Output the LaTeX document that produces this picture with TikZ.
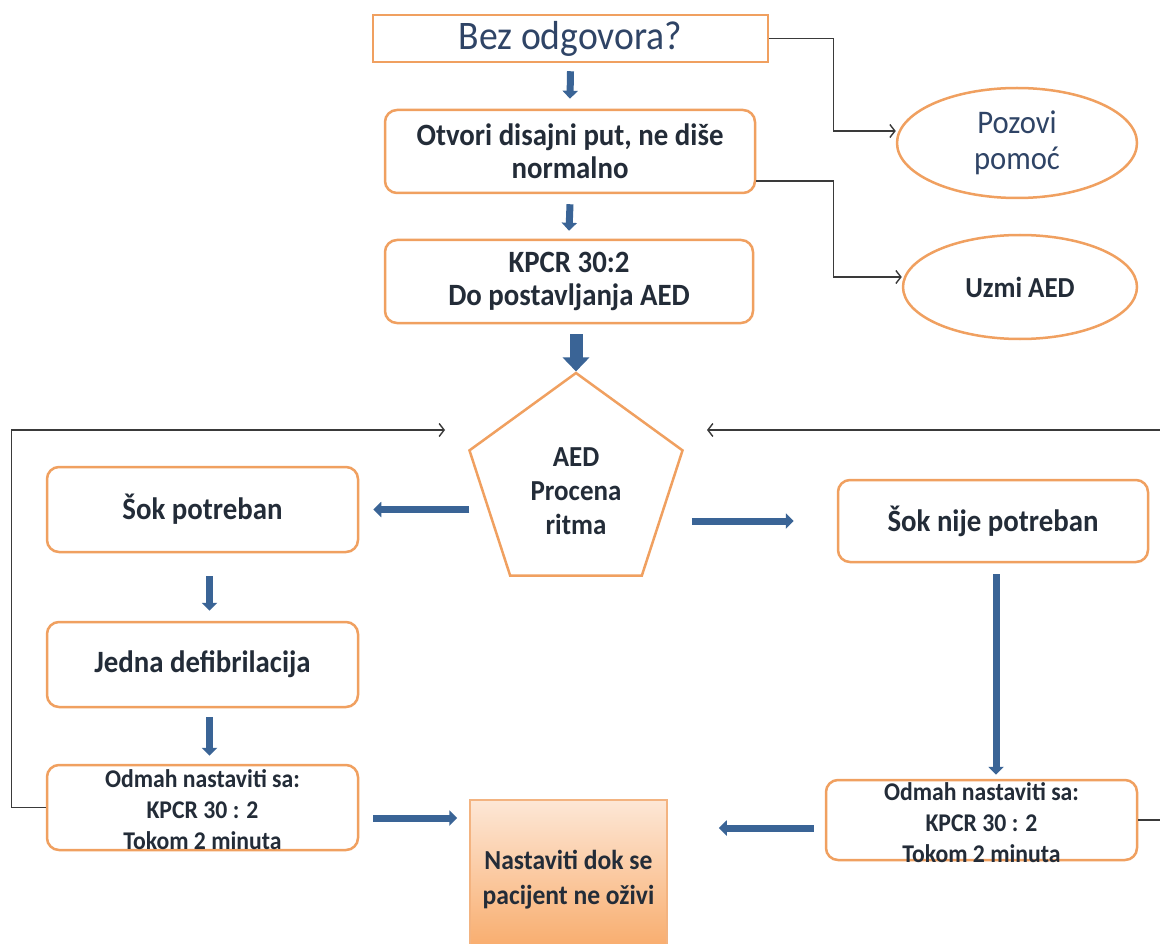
\documentclass[tikz,border=0pt]{standalone}
\usepackage{fontspec}
\setmainfont{Carlito}[FakeStretch=0.93]
\usetikzlibrary{arrows.meta,shapes.geometric,calc}
\definecolor{orng}{HTML}{F0A060}
\definecolor{txt}{HTML}{232C38}
\definecolor{txtb}{HTML}{2F4466}
\definecolor{blu}{HTML}{3A6496}
\definecolor{ln}{HTML}{3A3A3A}
\definecolor{nastop}{HTML}{FDE7D6}
\definecolor{nasbot}{HTML}{F8A865}
\begin{document}
\begin{tikzpicture}[x=1pt,y=-1pt,
  box/.style={draw=orng, line width=2.5pt, rounded corners=12pt, fill=white,
    align=center, text=txt, inner sep=0pt,
    font=\bfseries\fontsize{31}{33}\selectfont},
  sq/.style={draw=orng, line width=2.5pt, fill=white, inner sep=0pt,
    text=txtb, font=\fontsize{40.5}{42}\selectfont},
  ell/.style={ellipse, draw=orng, line width=2.5pt, fill=white, inner sep=0pt, align=center},
  lbl/.style={align=center, text=txt, inner sep=0pt},
  blk/.style={draw=blu, line width=7pt, -{Triangle[width=15pt,length=8pt]}},
  bigblk/.style={draw=blu, line width=13pt, -{Triangle[width=26pt,length=14pt]}},
  conn/.style={draw=ln, line width=1.4pt, -{Straight Barb[length=5pt,width=13pt]}}
]
\useasboundingbox (0,0) rectangle (1160,944);
\fill[white] (0,0) rectangle (1160,944);

% top column
\node[sq, minimum width=395pt, minimum height=47pt] (top) at (570.5,38.5) {Bez odgovora?};
\node[box, minimum width=370pt, minimum height=83pt] (otv) at (570,151.5) {Otvori disajni put, ne diše\\normalno};
\node[box, minimum width=368pt, minimum height=83pt] (kpcr) at (569,281.5) {KPCR 30:2\\Do postavljanja AED};

% ellipses
\node[ell, minimum width=240pt, minimum height=110pt, text=txtb,
  font=\fontsize{33}{36}\selectfont] (poz) at (1017,143) {Pozovi\\pomoć};
\node[ell, minimum width=234pt, minimum height=104pt, text=txt,
  font=\bfseries\fontsize{29}{30}\selectfont] (uzmi) at (1020,287) {Uzmi AED};

% pentagon
\node[regular polygon, regular polygon sides=5, minimum size=224pt, draw=orng,
  line width=2.5pt, fill=white, inner sep=0pt] (pent) at (576,485) {};
\node[lbl, font=\bfseries\fontsize{29}{34}\selectfont] (pentt) at (576,491) {AED\\Procena\\ritma};

% left column
\node[box, minimum width=311pt, minimum height=85pt] (sok) at (202.5,509.5) {Šok potreban};
\node[box, minimum width=311pt, minimum height=85pt] (jed) at (202.5,664.5) {Jedna defibrilacija};
\node[box, minimum width=311pt, minimum height=85pt] (odL) at (202.5,807.5) {};
\node[lbl, font=\bfseries\fontsize{25.5}{31}\selectfont] (odLt) at (202.5,810) {Odmah nastaviti sa:\\KPCR 30 : 2\\Tokom 2 minuta};

% right column
\node[box, minimum width=310pt, minimum height=82pt] (sokn) at (993,521) {Šok nije potreban};
\node[box, minimum width=311pt, minimum height=80pt] (odR) at (981.5,820) {};
\node[lbl, font=\bfseries\fontsize{25.5}{31}\selectfont] (odRt) at (981.5,823) {Odmah nastaviti sa:\\KPCR 30 : 2\\Tokom 2 minuta};

% final box
\node[draw=orng!80, line width=1.5pt, top color=nastop, bottom color=nasbot,
  minimum width=197pt, minimum height=160pt, inner sep=0pt, align=center, text=txt,
  font=\bfseries\fontsize{27.5}{35}\selectfont] (nast) at (568.5,880) {Nastaviti dok se\\pacijent ne oživi};

% coordinates for loop ends
\coordinate (lin) at (445,430);
\coordinate (rin) at (707,430);

% blue block arrows
\draw[blk] ([yshift=-8pt]top.south) -- ([yshift=10pt]otv.north);
\draw[blk] ([yshift=-10pt]otv.south) -- ([yshift=8pt]kpcr.north);
\path (kpcr.south -| pent.corner 1) coordinate (k3);
\draw[bigblk] ([yshift=-10pt]k3) -- (pent.corner 1);
\draw[blk] ([xshift=110pt]sok.east) -- ([xshift=14pt]sok.east);
\draw[blk] ([xshift=-145pt]sokn.west) -- ([xshift=-43pt]sokn.west);
\draw[blk] ([shift={(7pt,-23pt)}]sok.south) -- ([shift={(7pt,10pt)}]jed.north);
\draw[blk] ([shift={(7pt,-9pt)}]jed.south) -- ([shift={(7pt,8pt)}]odL.north);
\draw[blk] ([shift={(14pt,-10.5pt)}]odL.east) -- ([shift={(-12pt,62pt)}]nast.west);
\draw[blk] ([shift={(-11pt,-8pt)}]odR.west) -- ([shift={(51pt,52pt)}]nast.east);
\draw[blk] ([shift={(3pt,-11pt)}]sokn.south) -- ([shift={(14.5pt,4pt)}]odR.north);

% thin connectors
\draw[conn] (top.east) -- ++(64,0) |- ([yshift=12pt]poz.west);
\draw[conn] ([yshift=-29.5pt]otv.east) -- ++(77,0) |- ([yshift=10pt]uzmi.west);
\draw[conn] (odL.west) -- ++(-34,0) |- (lin);
\draw[conn] (odR.east) -- ++(28,0) |- (rin);
\end{tikzpicture}
\end{document}
